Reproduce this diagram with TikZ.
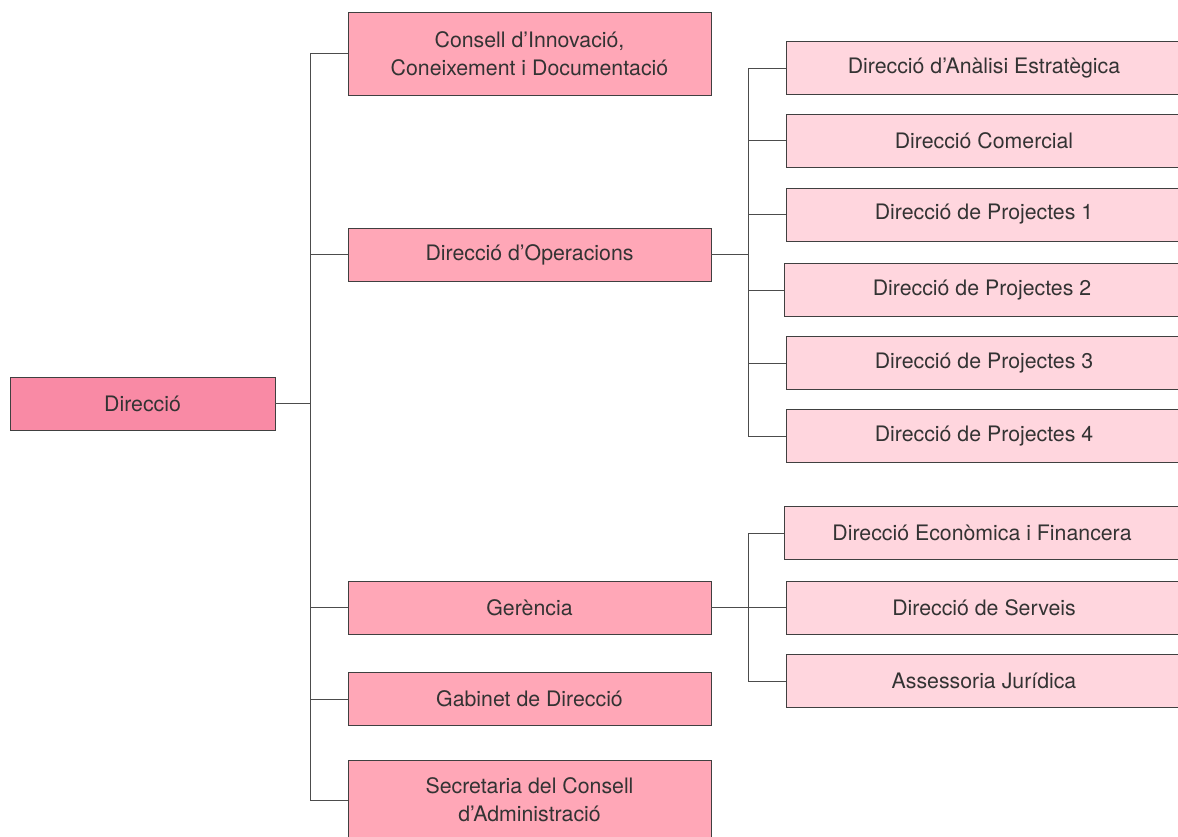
\documentclass[tikz,border=0pt]{standalone}
\usepackage{fontspec}
\setmainfont{TeX Gyre Heros}
\begin{document}
\begin{tikzpicture}[x=1pt,y=-1pt,
  every node/.style={font=\fontsize{21.3}{28}\selectfont, text=black!80, align=center, inner sep=0pt},
  box/.style={draw=black!75, line width=0.8pt, rectangle},
  lvone/.style={box, fill=topc, minimum width=265pt, minimum height=53pt},
  lvtwo/.style={box, fill=midc, minimum width=363pt, minimum height=53pt},
  lvthree/.style={box, fill=lowc, minimum width=396pt, minimum height=53pt},
  conn/.style={draw=black!70, line width=0.8pt}]
\definecolor{topc}{HTML}{F98AA5}
\definecolor{midc}{HTML}{FFA7B7}
\definecolor{lowc}{HTML}{FFD6DE}
\useasboundingbox (0,0) rectangle (1178,837);
\clip (0,0) rectangle (1178,837);

\node[lvone] (dir) at (142.5,403.5) {Direcció};

\node[lvtwo, minimum height=83pt] (cons) at (529.5,53.5) {Consell d’Innovació,\\Coneixement i Documentació};
\node[lvtwo] (ops) at (529.5,254.5) {Direcció d’Operacions};
\node[lvtwo] (ger) at (529.5,607.5) {Gerència};
\node[lvtwo] (gab) at (529.5,699) {Gabinet de Direcció};
\node[lvtwo, minimum height=80pt] (sec) at (529.5,800) {Secretaria del Consell\\d’Administració};

\node[lvthree] (ana) at (984,68) {Direcció d’Anàlisi Estratègica};
\node[lvthree] (com) at (984,140.5) {Direcció Comercial};
\node[lvthree] (p1) at (984,214.5) {Direcció de Projectes 1};
\node[lvthree] (p2) at (982,290) {Direcció de Projectes 2};
\node[lvthree] (p3) at (984,363) {Direcció de Projectes 3};
\node[lvthree] (p4) at (984,436) {Direcció de Projectes 4};

\node[lvthree] (eco) at (982,533) {Direcció Econòmica i Financera};
\node[lvthree] (ser) at (984,607.5) {Direcció de Serveis};
\node[lvthree] (jur) at (984,681) {Assessoria Jurídica};

\coordinate (t) at (310,403.5);
\draw[conn] (dir.east) -- (t);
\foreach \n in {cons,ops,ger,gab,sec} \draw[conn] (t) |- (\n.west);

\coordinate (ob) at (748,254.5);
\draw[conn] (ops.east) -- (ob);
\foreach \n in {ana,com,p1,p2,p3,p4} \draw[conn] (ob) |- (\n.west);

\coordinate (gb) at (748,607.5);
\draw[conn] (ger.east) -- (gb);
\foreach \n in {eco,ser,jur} \draw[conn] (gb) |- (\n.west);
\end{tikzpicture}
\end{document}
